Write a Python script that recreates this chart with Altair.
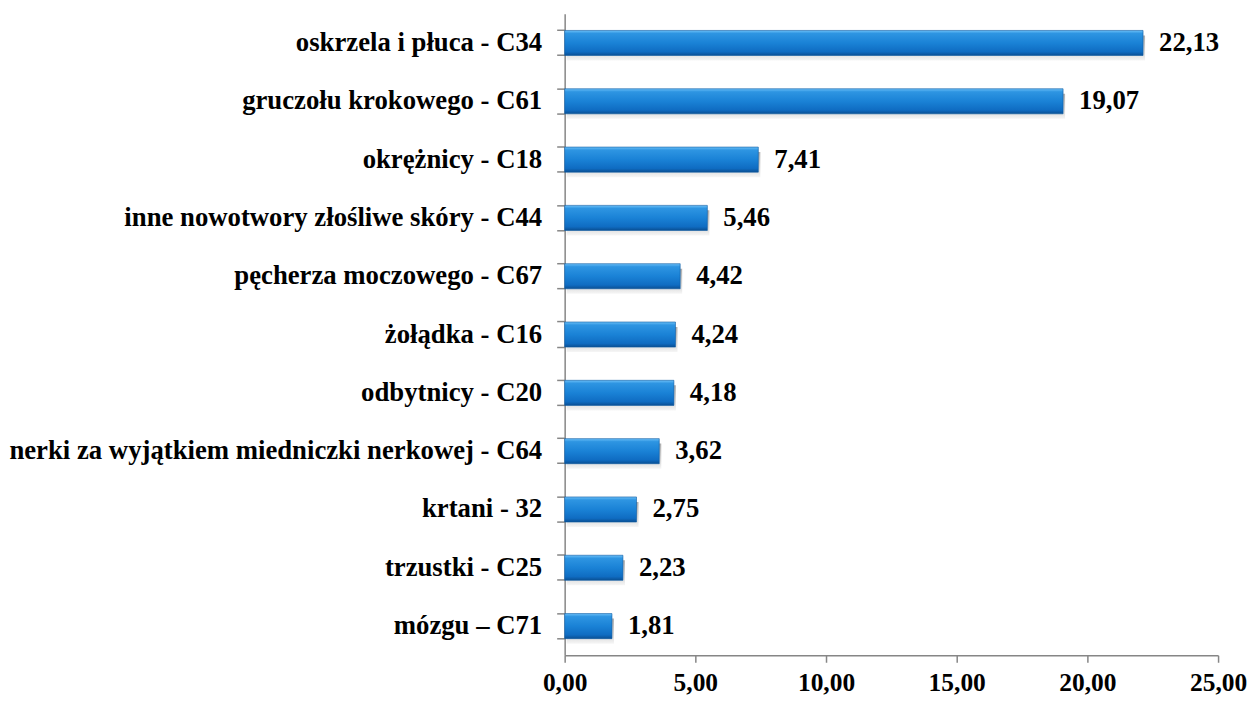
import altair as alt
import pandas as pd

categories = [
    "oskrzela i płuca - C34",
    "gruczołu krokowego - C61",
    "okrężnicy - C18",
    "inne nowotwory złośliwe skóry - C44",
    "pęcherza moczowego - C67",
    "żołądka - C16",
    "odbytnicy - C20",
    "nerki za wyjątkiem miedniczki nerkowej - C64",
    "krtani - 32",
    "trzustki - C25",
    "mózgu – C71",
]
values = [22.13, 19.07, 7.41, 5.46, 4.42, 4.24, 4.18, 3.62, 2.75, 2.23, 1.81]
labels = ["22,13", "19,07", "7,41", "5,46", "4,42", "4,24", "4,18", "3,62", "2,75", "2,23", "1,81"]
x_ticks = [0, 5, 10, 15, 20, 25]

df = pd.DataFrame({"cat": categories, "val": values, "lab": labels})

FONT = "Times New Roman, Liberation Serif, serif"
FS = 26.8
FSX = 25.5
AX = "#868686"

yscale = alt.Scale(paddingInner=0.57, paddingOuter=0.285)

y_lab = alt.Y("cat:N", sort=categories, title=None, scale=yscale,
              axis=alt.Axis(labelFont=FONT, labelFontSize=FS, labelFontWeight="bold",
                            labelColor="black", labelPadding=15, tickSize=8, tickOpacity=0,
                            domainColor=AX, domainWidth=1.5, labelLimit=900, orient="left"))
y_t0 = alt.Y("cat:N", sort=categories, title=None, scale=yscale,
             axis=alt.Axis(labels=False, domain=False, tickSize=8, tickColor=AX, tickWidth=1.5,
                           bandPosition=0, orient="left"))
y_t1 = alt.Y("cat:N", sort=categories, title=None, scale=yscale,
             axis=alt.Axis(labels=False, domain=False, tickSize=8, tickColor=AX, tickWidth=1.5,
                           bandPosition=1, orient="left"))

x_enc = alt.X("val:Q", title=None,
              scale=alt.Scale(domain=[0, 25], nice=False),
              axis=alt.Axis(values=x_ticks, labelExpr="replace(format(datum.value, '.2f'), '.', ',')",
                            labelFont=FONT, labelFontSize=FSX, labelFontWeight="bold",
                            labelColor="black", labelPadding=8, tickSize=7,
                            tickColor=AX, domainColor=AX, tickWidth=1.5, domainWidth=1.5,
                            grid=False, labelFlush=False))

grad = alt.Gradient(
    gradient="linear", x1=0, y1=0, x2=0, y2=1,
    stops=[
        alt.GradientStop(color="#6cc0f8", offset=0),
        alt.GradientStop(color="#2e95e2", offset=0.12),
        alt.GradientStop(color="#1a82d6", offset=0.5),
        alt.GradientStop(color="#0f6cc2", offset=0.85),
        alt.GradientStop(color="#0a4f93", offset=1),
    ],
)
shadow_grad = alt.Gradient(
    gradient="linear", x1=0, y1=0, x2=0, y2=1,
    stops=[
        alt.GradientStop(color="#9a9a9a", offset=0),
        alt.GradientStop(color="#d0d0d0", offset=0.7),
        alt.GradientStop(color="#f4f4f4", offset=1),
    ],
)

shadow = alt.Chart(df).mark_bar(color=shadow_grad, xOffset=2, yOffset=5, opacity=0.8).encode(
    y=y_lab, x=x_enc
)
bars = alt.Chart(df).mark_bar(color=grad, stroke="#0c5aa3", strokeWidth=0.6).encode(
    y=y_t0, x=x_enc
)
text = alt.Chart(df).mark_text(align="left", dx=16, font=FONT, fontSize=FS,
                               fontWeight="bold", color="black").encode(
    y=y_t1, x="val:Q", text="lab:N"
)

chart = alt.layer(shadow, bars, text).resolve_axis(y="independent").properties(
    width=655, height=643, padding={"left": 0, "top": 5, "right": 0, "bottom": 0}
).configure_view(stroke=None).configure_axis(grid=False)

chart.save("out.html", embed_options={"renderer": "svg", "actions": False})
